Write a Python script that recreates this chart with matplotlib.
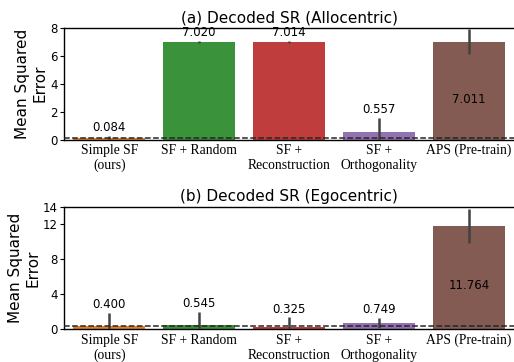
import matplotlib
matplotlib.use("Agg")
import matplotlib.pyplot as plt
import matplotlib.transforms as mtransforms

# Methods compared in both panels
methods = ["Simple SF\n(ours)", "SF + Random", "SF +\nReconstruction",
           "SF +\nOrthogonality", "APS (Pre-train)"]

# Mean squared error of the decoded SR, with error-bar half widths
allo_mse = [0.084, 7.020, 7.014, 0.557, 7.011]
allo_err = [0.20, 0.07, 0.07, 1.00, 0.90]

ego_mse = [0.400, 0.545, 0.325, 0.749, 11.764]
ego_err = [1.50, 1.50, 1.05, 0.60, 1.93]

# y-axis settings per panel
allo_yticks = [0, 2, 4, 6, 8]
ego_yticks = [0, 4, 8, 12, 14]

titles = ["(a) Decoded SR (Allocentric)", "(b) Decoded SR (Egocentric)"]

colors = ["#e1812c", "#3a923a", "#c03d3e", "#9372b2", "#845b53"]
err_color = "#424242"

fig = plt.figure(figsize=(5.14, 3.62), dpi=100)
ax_top = fig.add_axes([0.125, 0.6146, 0.875, 0.3081])
ax_bot = fig.add_axes([0.125, 0.0898, 0.875, 0.3392])


def draw_panel(ax, values, errs, yticks, title):
    x = list(range(len(values)))
    ax.bar(x, values, width=0.8, color=colors, zorder=2)
    ax.errorbar(x, values, yerr=errs, fmt="none", ecolor=err_color,
                elinewidth=1.8, capsize=0, zorder=3)
    ax.axhline(values[0], color="0.15", linestyle="--", linewidth=1.1,
               zorder=4)
    ax.set_xlim(-0.5, len(values) - 0.5)
    ax.set_ylim(yticks[0], yticks[-1])
    ax.set_yticks(yticks)
    ax.set_xticks(x)
    ax.set_xticklabels(methods, family="Liberation Serif", fontsize=9.8,
                       linespacing=1.2)
    ax.tick_params(axis="x", length=0, pad=3)
    ax.tick_params(axis="y", labelsize=8.5, length=3, pad=1.5)
    ax.set_ylabel("Mean Squared\nError", fontsize=11, labelpad=2)
    ax.set_title(title, fontsize=11, pad=4)
    ax.spines["right"].set_visible(False)
    for s in ("left", "bottom", "top"):
        ax.spines[s].set_linewidth(1.0)

    # value annotations: above the error bar, or inside the tall last bar
    trans_in = mtransforms.blended_transform_factory(ax.transData,
                                                     ax.transAxes)
    for i, (v, e) in enumerate(zip(values, errs)):
        label = f"{v:.3f}"
        if i == len(values) - 1:
            ax.text(i, 0.36, label, transform=trans_in, ha="center",
                    va="center", fontsize=8.5, zorder=5)
        else:
            ax.annotate(label, (i, v + e), xytext=(0, 1),
                        textcoords="offset points", ha="center",
                        va="bottom", fontsize=8.5, zorder=5)


draw_panel(ax_top, allo_mse, allo_err, allo_yticks, titles[0])
draw_panel(ax_bot, ego_mse, ego_err, ego_yticks, titles[1])

fig.savefig("out.png", dpi=100)
